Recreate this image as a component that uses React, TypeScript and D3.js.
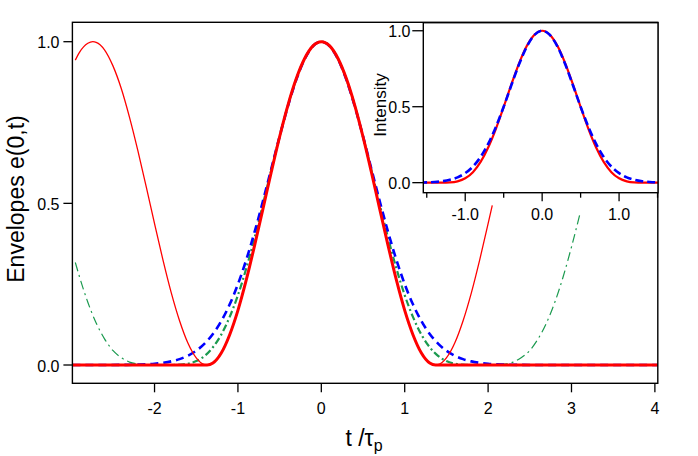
import React from 'react';
import * as d3 from 'd3';

// ---------- tick values & labels ----------
const mainXTicks = [-2, -1, 0, 1, 2, 3, 4];
const mainXTickLabels = ['-2', '-1', '0', '1', '2', '3', '4'];
const mainYTicks = [0, 0.5, 1];
const mainYTickLabels = ['0.0', '0.5', '1.0'];
const insetXTicks = [-1, 0, 1];
const insetXTickLabels = ['-1.0', '0.0', '1.0'];
const insetXMinorTicks = [-1.5, -0.5, 0.5, 1.5];
const insetYTicks = [0, 0.5, 1];
const insetYTickLabels = ['0.0', '0.5', '1.0'];

// ---------- main panel series (t / tau_p , envelope) ----------
const redThickT = [-2.985, -1.37, -1.3, -1.2, -1.1, -1.0, -0.9, -0.8, -0.7, -0.6, -0.5, -0.4, -0.3, -0.2, -0.1, 0, 0.1, 0.2, 0.3, 0.4, 0.5, 0.6, 0.7, 0.8, 0.9, 1.0, 1.1, 1.2, 1.3, 1.37, 4.035];
const redThickV = [0, 0, 0.006, 0.037, 0.093, 0.169, 0.263, 0.370, 0.483, 0.597, 0.706, 0.804, 0.886, 0.948, 0.987, 1, 0.987, 0.948, 0.886, 0.804, 0.706, 0.597, 0.483, 0.370, 0.263, 0.169, 0.093, 0.037, 0.006, 0, 0];

const redThinT = [-2.95, -2.9, -2.8, -2.74, -2.7, -2.6, -2.5, -2.4, -2.3, -2.2, -2.1, -2.0, -1.9, -1.8, -1.7, -1.6, -1.5, -1.4, -1.37, -1.3, -1.2, -1.1, -1.0, -0.9, -0.8, -0.7, -0.6, -0.5, -0.4, -0.3, -0.2, -0.1, 0, 0.1, 0.2, 0.3, 0.4, 0.5, 0.6, 0.7, 0.8, 0.9, 1.0, 1.1, 1.2, 1.3, 1.37, 1.4, 1.5, 1.6, 1.7, 1.8, 1.9, 2.0, 2.05];
const redThinV = [0.943, 0.967, 0.995, 1, 0.998, 0.975, 0.926, 0.856, 0.766, 0.663, 0.552, 0.437, 0.326, 0.224, 0.137, 0.068, 0.022, 0.001, 0, 0.006, 0.037, 0.093, 0.169, 0.263, 0.370, 0.483, 0.597, 0.706, 0.804, 0.886, 0.948, 0.987, 1, 0.987, 0.948, 0.886, 0.804, 0.706, 0.597, 0.483, 0.370, 0.263, 0.169, 0.093, 0.037, 0.006, 0, 0.001, 0.022, 0.068, 0.137, 0.224, 0.326, 0.437, 0.494];

const greenThickT = [-1.9, -1.8, -1.7, -1.6, -1.5, -1.4, -1.3, -1.2, -1.1, -1.0, -0.9, -0.8, -0.7, -0.6, -0.5, -0.4, -0.3, -0.2, -0.1, 0, 0.1, 0.2, 0.3, 0.4, 0.5, 0.6, 0.7, 0.8, 0.9, 1.0, 1.1, 1.2, 1.3, 1.4, 1.5, 1.6, 1.7, 1.8, 1.9];
const greenThickV = [0, 0, 0.001, 0.004, 0.012, 0.028, 0.055, 0.094, 0.148, 0.216, 0.299, 0.394, 0.497, 0.603, 0.707, 0.803, 0.885, 0.947, 0.987, 1, 0.987, 0.947, 0.885, 0.803, 0.707, 0.603, 0.497, 0.394, 0.299, 0.216, 0.148, 0.094, 0.055, 0.028, 0.012, 0.004, 0.001, 0, 0];

const greenLeftT = [-2.95, -2.9, -2.8, -2.7, -2.6, -2.5, -2.4, -2.3, -2.2, -2.1, -2.0, -1.9];
const greenLeftV = [0.317, 0.273, 0.194, 0.130, 0.081, 0.045, 0.023, 0.009, 0.003, 0.001, 0, 0];
const greenRightT = [1.9, 2.0, 2.1, 2.2, 2.3, 2.4, 2.5, 2.6, 2.7, 2.8, 2.9, 3.0, 3.1];
const greenRightV = [0, 0, 0.001, 0.003, 0.009, 0.023, 0.045, 0.081, 0.130, 0.194, 0.273, 0.365, 0.466];

const blueT = [-2.985, -2.6, -2.4, -2.2, -2.0, -1.9, -1.8, -1.7, -1.6, -1.5, -1.4, -1.3, -1.2, -1.1, -1.0, -0.9, -0.8, -0.7, -0.6, -0.5, -0.4, -0.3, -0.2, -0.1, 0, 0.1, 0.2, 0.3, 0.4, 0.5, 0.6, 0.7, 0.8, 0.9, 1.0, 1.1, 1.2, 1.3, 1.4, 1.5, 1.6, 1.7, 1.8, 1.9, 2.0, 2.2, 2.4, 2.6, 4.035];
const blueV = [0, 0.0001, 0.0003, 0.0012, 0.0039, 0.0067, 0.0112, 0.0182, 0.0288, 0.0442, 0.0661, 0.0960, 0.1358, 0.1869, 0.25, 0.3254, 0.4118, 0.5070, 0.6071, 0.7071, 0.8011, 0.8827, 0.9461, 0.9862, 1, 0.9862, 0.9461, 0.8827, 0.8011, 0.7071, 0.6071, 0.5070, 0.4118, 0.3254, 0.25, 0.1869, 0.1358, 0.0960, 0.0661, 0.0442, 0.0288, 0.0182, 0.0112, 0.0067, 0.0039, 0.0012, 0.0003, 0.0001, 0];

// ---------- inset series (intensity) ----------
const insetRedT = [-1.545, -1.37, -1.3, -1.2, -1.1, -1.0, -0.9, -0.8, -0.7, -0.6, -0.5, -0.4, -0.3, -0.2, -0.1, 0, 0.1, 0.2, 0.3, 0.4, 0.5, 0.6, 0.7, 0.8, 0.9, 1.0, 1.1, 1.2, 1.3, 1.37, 1.506];
const insetRedV = [0, 0, 0.0000, 0.0014, 0.0086, 0.0287, 0.0694, 0.1366, 0.2331, 0.3563, 0.4986, 0.6468, 0.7856, 0.8993, 0.9740, 1, 0.9740, 0.8993, 0.7856, 0.6468, 0.4986, 0.3563, 0.2331, 0.1366, 0.0694, 0.0287, 0.0086, 0.0014, 0.0000, 0, 0];

const insetBlueT = [-1.6, -1.5, -1.4, -1.3, -1.2, -1.1, -1.0, -0.9, -0.8, -0.7, -0.6, -0.5, -0.4, -0.3, -0.2, -0.1, 0, 0.1, 0.2, 0.3, 0.4, 0.5, 0.6, 0.7, 0.8, 0.9, 1.0, 1.1, 1.2, 1.3, 1.4, 1.5, 1.6];
const insetBlueV = [0.0008, 0.0020, 0.0044, 0.0092, 0.0185, 0.0349, 0.0625, 0.1059, 0.1696, 0.2570, 0.3686, 0.5, 0.6417, 0.7792, 0.8950, 0.9727, 1, 0.9727, 0.8950, 0.7792, 0.6417, 0.5, 0.3686, 0.2570, 0.1696, 0.1059, 0.0625, 0.0349, 0.0185, 0.0092, 0.0044, 0.0020, 0.0008];

const FONT = "'Liberation Sans', Arial, Helvetica, sans-serif";
const RED = '#ff0000';
const BLUE = '#0000ff';
const GREEN = '#1b9a4f';

function pathOf(ts: number[], vs: number[], xs: d3.ScaleLinear<number, number>, ys: d3.ScaleLinear<number, number>) {
  const gen = d3
    .line<number>()
    .x((_, i) => xs(ts[i]))
    .y((d) => ys(d))
    .curve(d3.curveMonotoneX);
  return gen(vs) || '';
}

export default function App() {
  const W = 698;
  const H = 456;

  // main panel
  const mL = 72.4, mR = 657.8, mT = 22.3, mB = 383.3;
  const x = d3.scaleLinear().domain([-2.985, 4.035]).range([mL, mR]);
  const y = d3.scaleLinear().domain([-0.0566, 1.06]).range([mB, mT]);

  // inset panel
  const iL = 423.3, iR = 658, iT = 22.7, iB = 192.7;
  const xi = d3.scaleLinear().domain([-1.545, 1.506]).range([iL, iR]);
  const yi = d3.scaleLinear().domain([-0.066, 1.053]).range([iB, iT]);

  return (
    <svg
      width={W}
      height={H}
      viewBox={`0 0 ${W} ${H}`}
      style={{ position: 'absolute', left: 0, top: 0, display: 'block', background: '#fff' }}
      fontFamily={FONT}
    >
      <defs>
        <clipPath id="mainClip">
          <rect x={mL} y={mT} width={mR - mL} height={mB - mT} />
        </clipPath>
        <clipPath id="insetClip">
          <rect x={iL} y={iT} width={iR - iL} height={iB - iT} />
        </clipPath>
      </defs>
      <rect x={0} y={0} width={W} height={H} fill="#fff" />

      {/* main curves */}
      <g clipPath="url(#mainClip)" fill="none" strokeLinejoin="round">
        <path d={pathOf(greenLeftT, greenLeftV, x, y)} stroke={GREEN} strokeWidth={1.2} strokeDasharray="9,4,2,4" />
        <path d={pathOf(greenRightT, greenRightV, x, y)} stroke={GREEN} strokeWidth={1.2} strokeDasharray="9,4,2,4" />
        <path d={pathOf(greenThickT, greenThickV, x, y)} stroke={GREEN} strokeWidth={2.2} strokeDasharray="7,3,2,3" />
        <path d={pathOf(blueT, blueV, x, y)} stroke={BLUE} strokeWidth={2.6} strokeDasharray="8,5" />
        <path d={pathOf(redThinT, redThinV, x, y)} stroke={RED} strokeWidth={1.3} />
        <path d={pathOf(redThickT, redThickV, x, y)} stroke={RED} strokeWidth={3} />
      </g>

      {/* main frame */}
      <rect x={mL} y={mT} width={mR - mL} height={mB - mT} fill="none" stroke="#000" strokeWidth={1.4} />

      {/* main x axis ticks */}
      {mainXTicks.map((t, i) => (
        <g key={'mx' + i}>
          <line x1={x(t)} x2={x(t)} y1={mB} y2={mB + 9} stroke="#000" strokeWidth={1.3} />
          <text x={x(t)} y={414} fontSize={16} textAnchor="middle" fill="#000">
            {mainXTickLabels[i]}
          </text>
        </g>
      ))}
      {/* main y axis ticks */}
      {mainYTicks.map((t, i) => (
        <g key={'my' + i}>
          <line x1={mL - 9} x2={mL} y1={y(t)} y2={y(t)} stroke="#000" strokeWidth={1.3} />
          <text x={59.5} y={y(t) + 6.5} fontSize={16} textAnchor="end" fill="#000">
            {mainYTickLabels[i]}
          </text>
        </g>
      ))}

      {/* axis titles */}
      <text transform={`translate(24,199) rotate(-90)`} fontSize={23} textAnchor="middle" fill="#000">
        Envelopes e(0,t)
      </text>
      <text x={364} y={446} fontSize={23} textAnchor="middle" fill="#000">
        t /τ<tspan fontSize={16} dy={5}>p</tspan>
      </text>

      {/* inset */}
      <rect x={iL} y={iT} width={iR - iL} height={iB - iT} fill="#fff" />
      <g clipPath="url(#insetClip)" fill="none" strokeLinejoin="round">
        <path d={pathOf(insetRedT, insetRedV, xi, yi)} stroke={RED} strokeWidth={2.2} />
        <path d={pathOf(insetBlueT, insetBlueV, xi, yi)} stroke={BLUE} strokeWidth={2.6} strokeDasharray="8,4" />
      </g>
      <rect x={iL} y={iT} width={iR - iL} height={iB - iT} fill="none" stroke="#000" strokeWidth={1.4} />

      {insetXTicks.map((t, i) => (
        <g key={'ix' + i}>
          <line x1={xi(t)} x2={xi(t)} y1={iB} y2={iB + 8.5} stroke="#000" strokeWidth={1.3} />
          <text x={xi(t)} y={220} fontSize={16} textAnchor="middle" fill="#000">
            {insetXTickLabels[i]}
          </text>
        </g>
      ))}
      {insetXMinorTicks.map((t, i) => (
        <line key={'ixm' + i} x1={xi(t)} x2={xi(t)} y1={iB} y2={iB + 5} stroke="#000" strokeWidth={1.3} />
      ))}
      {insetYTicks.map((t, i) => (
        <g key={'iy' + i}>
          <line x1={iL - 11} x2={iL} y1={yi(t)} y2={yi(t)} stroke="#000" strokeWidth={1.3} />
          <text x={410.5} y={yi(t) + 6} fontSize={16} textAnchor="end" fill="#000">
            {insetYTickLabels[i]}
          </text>
        </g>
      ))}
      <text transform={`translate(386,105) rotate(-90)`} fontSize={17} textAnchor="middle" fill="#000">
        Intensity
      </text>
    </svg>
  );
}
